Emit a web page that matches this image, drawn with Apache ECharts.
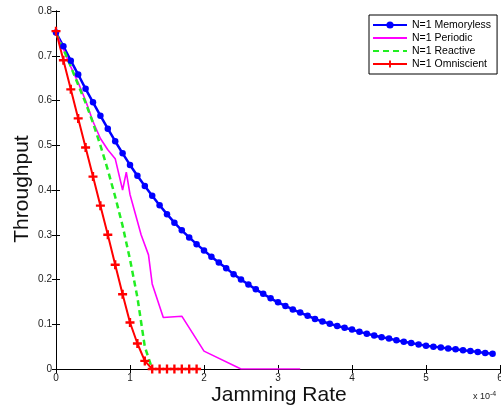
<!DOCTYPE html>
<html>
<head>
<meta charset="utf-8">
<script src="https://cdn.jsdelivr.net/npm/echarts@6/dist/echarts.min.js"></script>
<style>html,body{margin:0;padding:0;background:#fff}#c{width:501px;height:410px}</style>
</head>
<body>
<div id="c"></div>
<script>
// ---- data (jamming rate in units of 1e-4) ----
const memRate = [0,0.1,0.2,0.3,0.4,0.5,0.6,0.7,0.8,0.9,1.0,1.1,1.2,1.3,1.4,1.5,1.6,1.7,1.8,1.9,
  2.0,2.1,2.2,2.3,2.4,2.5,2.6,2.7,2.8,2.9,3.0,3.1,3.2,3.3,3.4,3.5,3.6,3.7,3.8,3.9,
  4.0,4.1,4.2,4.3,4.4,4.5,4.6,4.7,4.8,4.9,5.0,5.1,5.2,5.3,5.4,5.5,5.6,5.7,5.8,5.9];
const memoryless = [0.752,0.721,0.689,0.658,0.626,0.596,0.566,0.537,0.509,0.482,
  0.456,0.432,0.409,0.387,0.366,0.346,0.327,0.310,0.294,0.279,
  0.265,0.251,0.238,0.225,0.212,0.200,0.189,0.178,0.168,0.158,
  0.149,0.141,0.133,0.126,0.119,0.112,0.106,0.101,0.096,0.092,
  0.088,0.083,0.079,0.075,0.071,0.068,0.064,0.061,0.058,0.055,
  0.052,0.050,0.048,0.046,0.044,0.042,0.040,0.038,0.036,0.034];
const perRate = [0,0.1,0.2,0.3,0.4,0.5,0.6,0.7,0.8,0.9,0.95,1.0,1.1,1.15,1.25,1.3,1.45,1.7,2.0,2.5,3.3];
const periodic = [0.75,0.715,0.675,0.64,0.60,0.553,0.515,0.49,0.47,0.40,0.44,0.39,0.33,0.30,0.255,0.19,0.115,0.118,0.04,0.0,0.0];
const reaRate = [0,0.1,0.2,0.3,0.4,0.5,0.6,0.7,0.8,0.9,1.0,1.1,1.2,1.3];
const reactive = [0.75,0.715,0.676,0.635,0.595,0.55,0.50,0.445,0.385,0.32,0.245,0.16,0.05,0.0];
const omnRate = [0,0.1,0.2,0.3,0.4,0.5,0.6,0.7,0.8,0.9,1.0,1.1,1.2,1.3,1.4,1.5,1.6,1.7,1.8,1.9];
const omniscient = [0.755,0.69,0.625,0.56,0.495,0.43,0.365,0.30,0.233,0.167,0.104,0.057,0.018,0,0,0,0,0,0,0];
const xTicks = [0,1,2,3,4,5,6];
const yTicks = [0,0.1,0.2,0.3,0.4,0.5,0.6,0.7,0.8];
const seriesNames = ['N=1 Memoryless','N=1 Periodic','N=1 Reactive','N=1 Omniscient'];

const pair = (xs, ys) => xs.map((x, i) => [x, ys[i]]);
const plusPath = 'path://M-1.3,-5H1.3V-1.3H5V1.3H1.3V5H-1.3V1.3H-5V-1.3H-1.3Z';
const FONT = 'Liberation Sans, Arial, sans-serif';

const chart = echarts.init(document.getElementById('c'), null, {renderer: 'canvas'});
const axisCommon = {
  axisLine: {show: true, lineStyle: {color: '#000', width: 1}},
  axisTick: {show: true, inside: true, length: 4, lineStyle: {color: '#000'}},
  splitLine: {show: false}
};
chart.setOption({
  animation: false,
  backgroundColor: '#fff',
  grid: {left: 56, right: 1, top: 11, bottom: 41, containLabel: false, outerBoundsMode: 'none'},
  xAxis: [
    Object.assign({type: 'value', min: xTicks[0], max: xTicks[xTicks.length-1], interval: 1,
      axisLabel: {color: '#222', fontSize: 10, fontFamily: FONT, margin: 4, formatter: v => String(v)}}, axisCommon),
    Object.assign({type: 'value', position: 'top', min: 0, max: 6, interval: 1, axisLabel: {show: false}}, axisCommon)
  ],
  yAxis: [
    Object.assign({type: 'value', min: yTicks[0], max: yTicks[yTicks.length-1], interval: 0.1,
      axisLabel: {color: '#222', fontSize: 10, fontFamily: FONT, margin: 4,
        formatter: v => v === 0 ? '0' : v.toFixed(1)}}, axisCommon),
    Object.assign({type: 'value', position: 'right', min: 0, max: 0.8, interval: 0.1, axisLabel: {show: false}}, axisCommon)
  ],
  legend: {
    orient: 'vertical', left: 369, top: 15,
    padding: [4, 6, 4, 3], itemGap: 1, itemWidth: 34, itemHeight: 9,
    backgroundColor: '#fff', borderColor: '#000', borderWidth: 1,
    textStyle: {fontSize: 10.5, fontFamily: FONT, color: '#000', lineHeight: 12},
    data: [
      {name: seriesNames[0]},
      {name: seriesNames[1], itemStyle: {opacity: 0}},
      {name: seriesNames[2], itemStyle: {opacity: 0}},
      {name: seriesNames[3]}
    ]
  },
  series: [
    {name: seriesNames[0], type: 'line', data: pair(memRate, memoryless),
      symbol: 'circle', symbolSize: 6.5, showAllSymbol: true,
      lineStyle: {color: '#0000ff', width: 2.5}, itemStyle: {color: '#0000ff'}},
    {name: seriesNames[1], type: 'line', data: pair(perRate, periodic), showSymbol: false, symbol: 'none',
      lineStyle: {color: '#ff00ff', width: 1.6}, itemStyle: {color: '#ff00ff'}},
    {name: seriesNames[2], type: 'line', data: pair(reaRate, reactive), showSymbol: false, symbol: 'none',
      lineStyle: {color: '#22ee22', width: 2.5, type: [6, 4]}, itemStyle: {color: '#22ee22'}},
    {name: seriesNames[3], type: 'line', data: pair(omnRate, omniscient),
      symbol: plusPath, symbolSize: 9, showAllSymbol: true,
      lineStyle: {color: '#ff0000', width: 2}, itemStyle: {color: '#ff0000'}}
  ],
  graphic: [
    {type: 'text', x: 22, y: 189, rotation: Math.PI / 2,
      style: {text: 'Throughput', font: '21px ' + FONT, fill: '#111', align: 'center', verticalAlign: 'middle'}},
    {type: 'text', x: 279, y: 395,
      style: {text: 'Jamming Rate', font: '21px ' + FONT, fill: '#111', align: 'center', verticalAlign: 'middle'}},
    {type: 'text', x: 473, y: 397,
      style: {text: '{a|x 10}{b|-4}', verticalAlign: 'middle',
        rich: {a: {fontSize: 9, fontFamily: FONT, fill: '#222'}, b: {fontSize: 7, fontFamily: FONT, fill: '#222', verticalAlign: 'top', padding: [0,0,6,0]}}}}
  ]
});
</script>
</body>
</html>
